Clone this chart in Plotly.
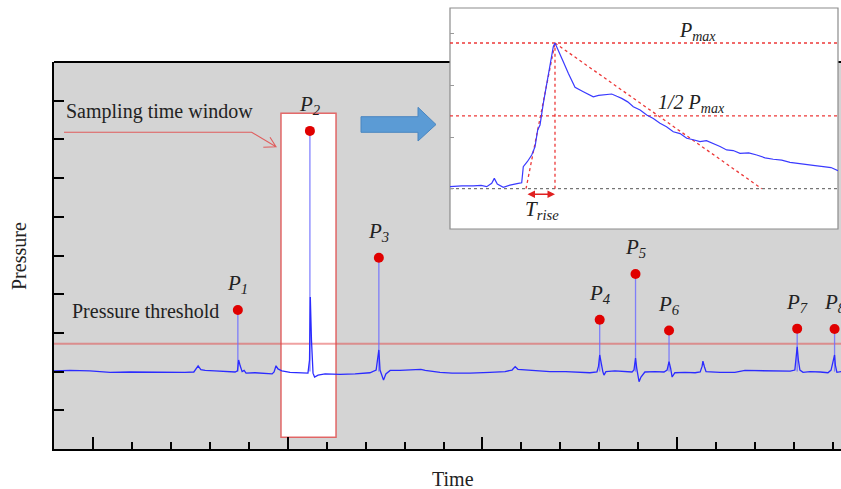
import plotly.graph_objects as go

# ---------------- data (main record) ----------------
sig_t = [0.00,0.41,0.92,1.18,1.44,1.95,2.46,2.98,3.36,3.59,3.65,3.70,3.77,3.88,4.13,4.39,4.65,4.71,4.74,4.78,
         4.83,4.88,4.93,5.16,5.42,5.60,5.65,5.70,5.75,5.85,6.06,6.32,6.52,6.56,6.58,6.61,6.65,6.69,6.78,6.96,
         7.34,7.73,8.11,8.27,8.31,8.34,8.37,8.42,8.46,8.52,8.63,8.88,9.14,9.42,9.53,9.91,10.22,10.68,11.19,11.58,
         11.76,11.84,11.91,12.22,12.73,13.14,13.50,13.76,13.94,13.98,14.01,14.04,14.09,14.12,14.17,14.40,14.66,14.84,14.89,14.93,
         14.96,15.02,15.07,15.17,15.43,15.66,15.74,15.79,15.83,15.87,15.94,16.20,16.46,16.59,16.64,16.66,16.70,16.74,17.10,17.48,
         17.74,18.13,18.51,18.90,19.02,19.08,19.11,19.15,19.23,19.41,19.67,19.87,19.95,20.04,20.06,20.10,20.21]
sig_p = [2.02,2.03,2.02,2.00,1.98,1.99,1.98,1.97,1.98,1.99,2.07,2.15,2.05,2.03,2.02,2.00,1.99,2.02,2.30,2.15,
         2.00,2.03,1.96,1.97,1.95,1.94,1.99,2.15,2.07,2.02,1.98,1.97,1.96,2.30,3.93,2.82,1.96,1.86,1.91,1.94,
         1.93,1.94,1.97,2.04,2.30,2.56,2.04,1.86,1.78,1.94,2.03,2.03,2.04,2.06,2.03,1.98,1.96,1.96,1.98,2.00,
         2.04,2.13,2.06,2.04,2.00,2.00,1.98,1.97,1.99,2.14,2.43,2.25,2.00,1.91,2.00,2.02,2.01,1.99,2.04,2.35,
         2.09,1.74,1.86,1.99,2.00,1.99,2.04,2.26,2.09,1.86,1.97,1.98,1.97,1.99,2.14,2.27,2.12,2.00,1.98,1.98,
         2.03,2.02,2.02,2.01,2.04,2.64,2.30,2.04,1.98,2.00,1.99,1.97,2.04,2.43,2.17,1.98,2.00]
assert len(sig_t) == len(sig_p)

baseline = 2.0
threshold = 2.72
peak_t = [4.72, 6.57, 8.34, 14.01, 14.93, 15.79, 19.08, 20.04]
peak_p = [3.59, 8.22, 4.94, 3.34, 4.52, 3.06, 3.11, 3.10]
peak_lbl = ["1", "2", "3", "4", "5", "6", "7", "8"]

x_major = [1, 6, 11, 16]
x_minor = [2, 3, 4, 5, 7, 8, 9, 10, 12, 13, 14, 15, 17, 18, 19, 20]
y_ticks = [1, 2, 3, 4, 5, 6, 7, 8, 9]

# ---------------- data (inset: one pressure pulse) ----------------
ins_t = [0, 3.0, 6.0, 8.0, 9.46, 10.75, 11.42, 12.19, 13.74, 15.46, 17.60, 18.48, 18.89, 19.92, 21.06, 21.91, 22.60,
         23.20, 24.05, 25.34, 26.62, 27.06, 27.91, 29.20, 30.49, 32.22, 34.36, 35.6, 36.93, 38.3, 39.51, 41.68, 43.0, 44.25,
         45.8, 47.24, 49.0, 50.70, 52.4, 54.12, 55.8, 57.55, 59.3, 61.01, 62.7, 64.43, 66.1, 67.86, 69.6, 71.31,
         73.0, 74.74, 77.0, 79.05, 81.2, 83.32, 85.5, 87.63, 89.8, 91.93, 94.1, 96.21, 98.2, 100.0]
ins_p = [0.014, 0.020, 0.019, 0.023, 0.014, 0.037, 0.071, 0.032, 0.010, 0.025, 0.037, 0.041, 0.151, 0.185, 0.231, 0.288, 0.403,
         0.437, 0.586, 0.792, 0.975, 1.0, 0.952, 0.872, 0.792, 0.696, 0.666, 0.648, 0.631, 0.640, 0.643, 0.650, 0.634, 0.620,
         0.596, 0.563, 0.540, 0.506, 0.482, 0.449, 0.425, 0.391, 0.378, 0.346, 0.336, 0.323, 0.330, 0.312, 0.290, 0.266,
         0.262, 0.243, 0.246, 0.231, 0.212, 0.202, 0.196, 0.181, 0.172, 0.163, 0.158, 0.151, 0.145, 0.124]
assert len(ins_t) == len(ins_p)
ins_pmax = 1.0
ins_peak_t = 27.06
ins_rise_start = 19.59
ins_decay_end = 80.34
ins_ticks = [0, 0.354, 0.708, 1.062]

# ---------------- helpers for decoration placement (pixel -> main axis units) ----------------
X0, XS = 54, 38.95
Y0, YS = 449, 38.7
def tx(px):
    return (px - X0) / XS
def vy(py):
    return (Y0 - py) / YS
def ptx(px):  # paper x
    return (px - 54) / 787
def pty(py):  # paper y
    return (449 - py) / 441

SERIF = "Liberation Serif, Times New Roman, serif"
RED_DOT = "rgba(235,45,45,0.95)"

fig = go.Figure()

# threshold
fig.add_trace(go.Scatter(x=[0, 20.205], y=[threshold, threshold], mode="lines",
                         line=dict(color="rgba(225,70,70,0.5)", width=2), hoverinfo="skip"))
# stems
st_x, st_y = [], []
for t, p in zip(peak_t, peak_p):
    st_x += [t, t, None]
    st_y += [baseline, p, None]
fig.add_trace(go.Scatter(x=st_x, y=st_y, mode="lines",
                         line=dict(color="rgba(110,110,255,0.85)", width=1.3), hoverinfo="skip"))
# signal
fig.add_trace(go.Scatter(x=sig_t, y=sig_p, mode="lines",
                         line=dict(color="#2b2bff", width=1.3), hoverinfo="skip"))
# peak dots
fig.add_trace(go.Scatter(x=peak_t, y=peak_p, mode="markers",
                         marker=dict(color="#e00000", size=10), hoverinfo="skip"))

# ---------------- inset traces ----------------
fig.add_trace(go.Scatter(x=[0, 100], y=[0, 0], xaxis="x2", yaxis="y2", mode="lines",
                         line=dict(color="#555555", width=1, dash="3px,3px"), hoverinfo="skip"))
fig.add_trace(go.Scatter(x=[0, 100, None, 0, 100], y=[ins_pmax, ins_pmax, None, ins_pmax / 2, ins_pmax / 2],
                         xaxis="x2", yaxis="y2", mode="lines",
                         line=dict(color=RED_DOT, width=1.3, dash="dot"), hoverinfo="skip"))
fig.add_trace(go.Scatter(x=[ins_peak_t, ins_peak_t, None, ins_rise_start, ins_peak_t, None, ins_peak_t, ins_decay_end],
                         y=[0, ins_pmax, None, 0, ins_pmax, None, ins_pmax, 0],
                         xaxis="x2", yaxis="y2", mode="lines",
                         line=dict(color=RED_DOT, width=1.3, dash="dot"), hoverinfo="skip"))
fig.add_trace(go.Scatter(x=ins_t, y=ins_p, xaxis="x2", yaxis="y2", mode="lines",
                         line=dict(color="#3a3aff", width=1.2), hoverinfo="skip"))

shapes = [
    # gray main plot background
    dict(type="rect", xref="x domain", yref="y domain", x0=0, x1=1, y0=0, y1=1,
         fillcolor="#d4d4d4", line=dict(width=0), layer="below"),
    # top frame line of main plot (hidden beneath the inset)
    dict(type="line", xref="x domain", yref="y domain", x0=0, x1=1, y0=1, y1=1,
         line=dict(color="black", width=2), layer="below"),
    # sampling window
    dict(type="rect", xref="x", yref="y", x0=tx(281), x1=tx(336), y0=vy(437.3), y1=vy(113.3),
         fillcolor="white", line=dict(color="rgba(225,80,80,0.85)", width=1.5), layer="below"),
    # inset frame
    dict(type="rect", xref="x2 domain", yref="y2 domain", x0=0, x1=1, y0=0, y1=1,
         fillcolor="white", line=dict(color="#8c8c8c", width=1.2), layer="below"),
    # call-out arrow to sampling window
    dict(type="path", xref="x", yref="y",
         path=(f"M {tx(64)},{vy(132.3)} L {tx(251.7)},{vy(132.3)} L {tx(276)},{vy(146.7)} "
               f"M {tx(263.3)},{vy(147.3)} L {tx(276)},{vy(146.7)} L {tx(270)},{vy(137.3)}"),
         line=dict(color="rgba(225,80,80,0.9)", width=1.1), layer="above"),
    # big blue arrow
    dict(type="path", xref="x", yref="y",
         path=(f"M {tx(361)},{vy(116.7)} L {tx(418)},{vy(116.7)} L {tx(418)},{vy(107.3)} "
               f"L {tx(436)},{vy(124.5)} L {tx(418)},{vy(141)} L {tx(418)},{vy(132.3)} "
               f"L {tx(361)},{vy(132.3)} Z"),
         fillcolor="#5b9bd5", line=dict(color="#4a86c0", width=1), layer="above"),
]

annotations = []
for t, p, l in zip(peak_t, peak_p, peak_lbl):
    annotations.append(dict(x=t, y=p, xref="x", yref="y", text=f"<i>P<sub>{l}</sub></i>",
                            showarrow=False, yshift=26, font=dict(family=SERIF, size=21, color="#222")))
annotations += [
    dict(x=tx(64), y=vy(111.7), xref="x", yref="y", xanchor="left", yanchor="middle",
         text="Sampling time window", showarrow=False, font=dict(family=SERIF, size=20, color="#222")),
    dict(x=tx(70), y=vy(310.7), xref="x", yref="y", xanchor="left", yanchor="middle",
         text="Pressure threshold", showarrow=False, font=dict(family=SERIF, size=20, color="#222")),
    dict(x=ptx(452.5), y=pty(479), xref="paper", yref="paper", xanchor="center", yanchor="middle",
         text="Time", showarrow=False, font=dict(family=SERIF, size=20, color="#222")),
    dict(x=ptx(19), y=pty(256), xref="paper", yref="paper", xanchor="center", yanchor="middle",
         text="Pressure", textangle=-90, showarrow=False, font=dict(family=SERIF, size=20, color="#222")),
    # inset texts
    dict(x=63.9, y=1.082, xref="x2", yref="y2", text="<i>P<sub>max</sub></i>", showarrow=False,
         xanchor="center", yanchor="middle", font=dict(family=SERIF, size=20, color="#222")),
    dict(x=62.3, y=0.585, xref="x2", yref="y2", text="<i>1/2 P<sub>max</sub></i>", showarrow=False,
         xanchor="center", yanchor="middle", font=dict(family=SERIF, size=20, color="#222")),
    dict(x=23.7, y=-0.146, xref="x2", yref="y2", text="<i>T<sub>rise</sub></i>", showarrow=False,
         xanchor="center", yanchor="middle", font=dict(family=SERIF, size=21, color="#222")),
    # T_rise double arrow
    dict(x=ins_peak_t, y=-0.038, ax=ins_rise_start, ay=-0.038, xref="x2", yref="y2",
         axref="x2", ayref="y2", text="", showarrow=True, arrowhead=2, arrowside="end+start",
         arrowsize=1, arrowwidth=1.5, arrowcolor="#e02020"),
]

fig.update_layout(
    width=841, height=489,
    margin=dict(l=54, r=0, t=8, b=40),
    paper_bgcolor="white", plot_bgcolor="rgba(0,0,0,0)",
    showlegend=False,
    shapes=shapes, annotations=annotations,
    xaxis=dict(domain=[0, 1], range=[0, 20.205], showline=True, linecolor="black", linewidth=2,
               mirror=False, ticks="inside", tickvals=x_major, ticklen=12, tickwidth=2, tickcolor="black",
               showticklabels=False, showgrid=False, zeroline=False,
               minor=dict(tickvals=x_minor, ticks="inside", ticklen=7, tickwidth=1.5, tickcolor="black",
                          showgrid=False)),
    yaxis=dict(domain=[0, 387 / 441], range=[0, 10], showline=True, linecolor="black", linewidth=2,
               ticks="inside", tickvals=y_ticks, ticklen=10, tickwidth=2, tickcolor="black",
               showticklabels=False, showgrid=False, zeroline=False),
    xaxis2=dict(domain=[396 / 787, 784 / 787], range=[0, 100], anchor="y2", showline=False,
                ticks="", showticklabels=False, showgrid=False, zeroline=False),
    yaxis2=dict(domain=[220 / 441, 1.0], range=[-0.2766, 1.2402], anchor="x2", showline=False,
                ticks="inside", tickvals=ins_ticks, ticklen=4, tickwidth=1, tickcolor="#999999",
                showticklabels=False, showgrid=False, zeroline=False),
)

fig.write_html("out.html")
